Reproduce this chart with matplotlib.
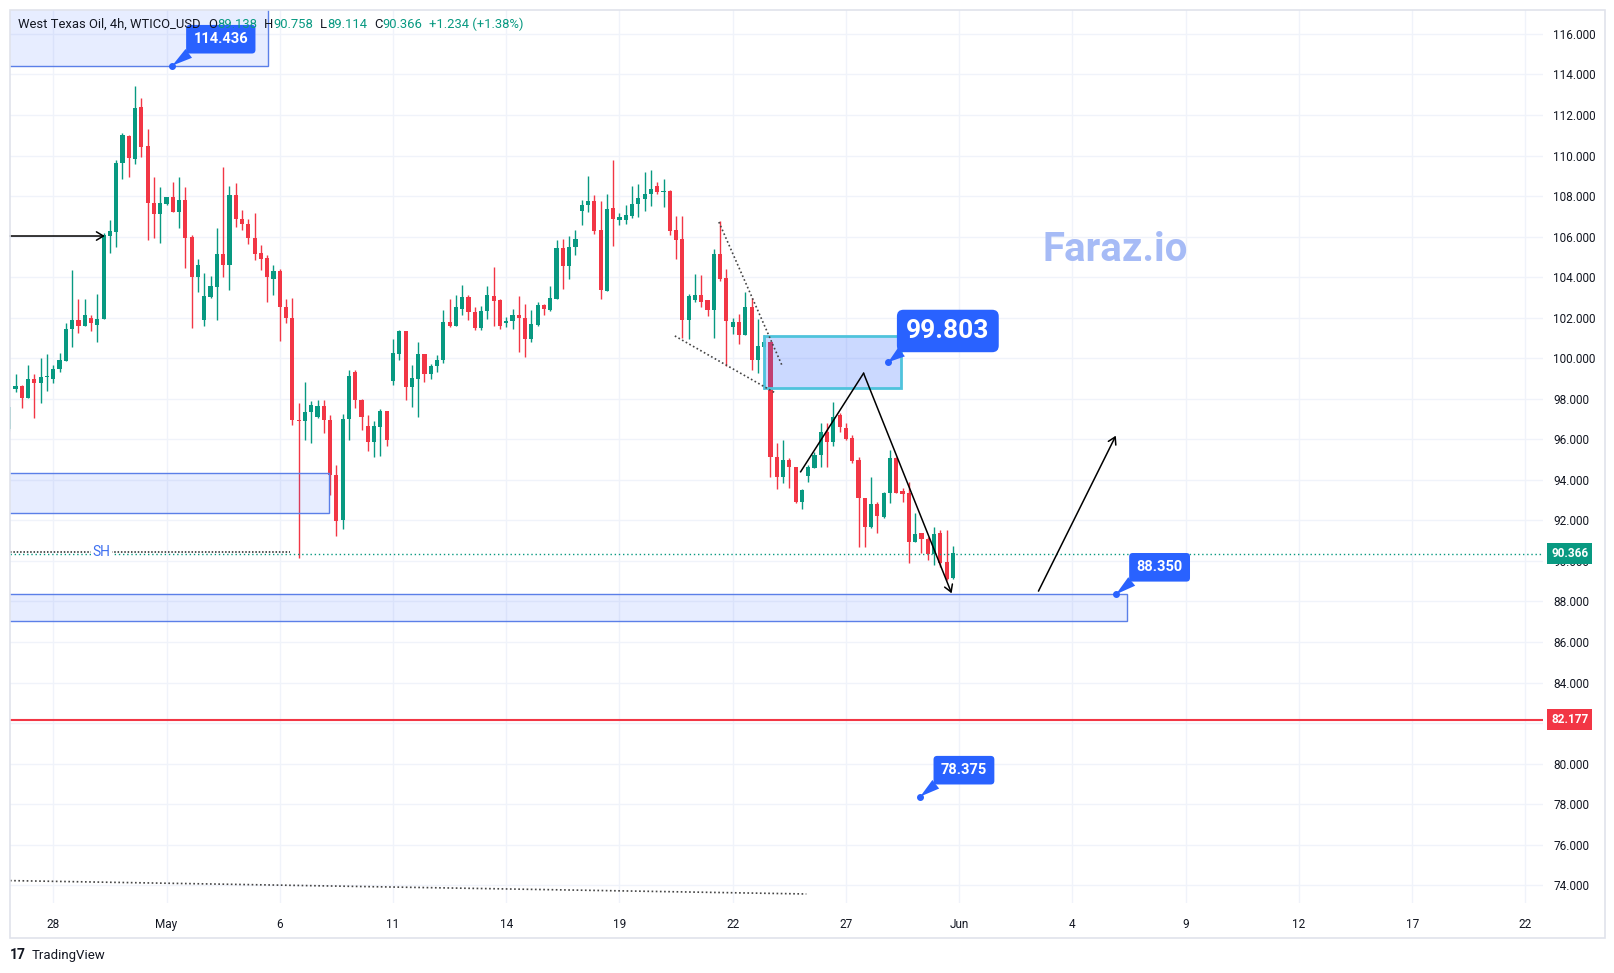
import matplotlib
matplotlib.use("Agg")
import matplotlib.pyplot as plt
import matplotlib.transforms as mtransforms
from matplotlib.patches import Rectangle
import numpy as np

plt.rcParams['font.family'] = ['Roboto', 'DejaVu Sans']

# ---------------- data ----------------
first_bar = -7
opens = [96.50, 98.50, 98.63, 98.05, 98.96, 98.80, 99.06,
         99.00, 99.47, 99.88, 101.44, 101.88, 101.59, 102.00, 101.64, 101.93, 106.05,
         106.24, 109.65, 110.96, 109.85, 112.39, 110.47, 107.64, 107.10, 107.60, 107.94,
         107.23, 107.81, 106.00, 103.99, 101.91, 103.03, 103.50, 105.16, 104.62, 108.03,
         106.89, 106.64, 105.94, 105.20, 104.95, 103.93, 104.28, 102.52, 101.99, 96.97,
         96.89, 97.33, 97.09, 97.62, 96.97, 94.23, 92.00, 97.01, 99.31, 97.93,
         96.68, 95.86, 96.61, 97.42, 98.87, 100.23, 101.33, 98.57, 99.00, 100.23,
         99.24, 99.61, 99.90, 101.79, 101.61, 102.45, 103.01, 102.29, 101.50, 102.32,
         103.09, 102.85, 101.73, 101.83, 102.15, 101.99, 100.97, 101.66, 102.62, 102.40,
         102.94, 105.46, 104.54, 105.48, 107.25, 107.55, 107.75, 106.32, 103.34, 107.42,
         106.81, 106.84, 107.01, 107.63, 107.88, 108.08, 108.49, 108.19, 108.24, 106.35,
         105.86, 101.88, 102.85, 103.14, 102.85, 102.40, 105.12, 103.96, 101.53, 101.78,
         101.15, 102.54, 99.90, 100.57, 100.80, 95.14, 94.16, 94.98, 94.65, 92.92,
         94.19, 94.57, 95.23, 96.35, 95.89, 97.20, 96.54, 96.05, 94.98, 93.09,
         91.69, 92.81, 92.15, 93.34, 95.06, 93.45, 93.37, 90.95, 91.36, 91.07,
         90.34, 91.36, 89.96, 89.14]
highs = [97.60, 99.20, 98.68, 99.66, 99.22, 100.03, 100.20,
         99.66, 100.24, 101.72, 104.35, 102.92, 102.92, 102.11, 103.16, 106.16, 106.82,
         109.78, 111.10, 111.01, 113.43, 112.82, 111.29, 108.96, 108.46, 107.97, 108.68,
         108.93, 108.43, 106.08, 104.90, 104.21, 104.08, 106.43, 109.42, 108.52, 108.65,
         107.29, 106.89, 107.17, 105.61, 105.07, 104.62, 104.38, 102.94, 102.98, 97.80,
         98.83, 97.88, 97.96, 97.93, 97.22, 94.75, 97.27, 99.41, 99.41, 97.99,
         97.19, 96.89, 97.50, 97.42, 100.95, 101.41, 101.33, 99.69, 100.81, 100.23,
         99.74, 100.18, 102.40, 102.94, 103.14, 103.59, 103.14, 102.55, 102.60, 103.55,
         104.49, 102.94, 102.02, 102.43, 103.06, 102.70, 102.40, 102.78, 102.68, 103.55,
         105.82, 105.90, 106.05, 106.35, 107.83, 109.01, 108.03, 107.75, 108.12, 109.80,
         107.17, 107.58, 108.49, 108.62, 109.18, 109.31, 108.70, 108.82, 108.32, 107.04,
         107.04, 103.19, 104.18, 104.13, 102.85, 105.41, 106.76, 104.42, 101.99, 102.20,
         103.27, 102.96, 101.92, 101.16, 100.80, 95.80, 95.97, 95.06, 94.65, 93.53,
         94.73, 95.39, 96.82, 96.82, 97.86, 97.28, 96.79, 96.21, 95.14, 93.09,
         94.16, 92.89, 93.42, 95.47, 95.14, 93.60, 93.91, 92.35, 91.36, 91.20,
         91.69, 91.53, 91.53, 90.76]
lows = [96.40, 98.35, 97.53, 98.05, 97.07, 97.77, 98.40,
        98.76, 99.34, 99.88, 100.57, 101.23, 101.59, 101.36, 100.82, 101.93, 105.20,
        105.50, 108.83, 108.96, 109.60, 109.95, 105.83, 105.91, 105.67, 107.56, 107.23,
        106.41, 104.43, 101.47, 103.28, 101.58, 102.98, 101.90, 104.00, 103.39, 106.48,
        106.35, 105.66, 104.87, 104.34, 102.76, 103.14, 100.84, 101.74, 96.73, 90.15,
        95.95, 95.82, 97.06, 96.32, 93.27, 91.22, 91.60, 95.99, 97.55, 96.48,
        95.41, 95.13, 95.16, 95.66, 98.70, 99.90, 97.93, 97.58, 97.09, 98.82,
        98.98, 99.31, 99.77, 101.53, 101.58, 102.12, 101.88, 101.41, 101.38, 101.96,
        101.61, 101.46, 101.53, 101.46, 100.30, 100.05, 100.81, 101.58, 102.12, 102.32,
        102.94, 103.44, 103.93, 105.07, 106.55, 107.20, 106.13, 102.94, 103.31, 105.53,
        106.55, 106.64, 106.92, 106.96, 107.25, 107.50, 108.11, 107.47, 106.10, 104.92,
        101.00, 100.95, 102.78, 102.52, 102.07, 101.00, 103.80, 99.64, 101.22, 100.72,
        101.15, 99.42, 99.25, 98.48, 94.16, 93.53, 93.83, 93.58, 92.84, 92.55,
        93.91, 94.57, 94.65, 94.65, 95.67, 96.38, 95.97, 94.82, 90.70, 90.70,
        91.61, 91.36, 92.10, 92.84, 93.34, 92.90, 89.88, 90.95, 90.38, 90.05,
        89.80, 89.72, 89.06, 89.11]
closes = [97.60, 98.65, 98.05, 98.96, 98.80, 99.06, 99.12,
          99.47, 99.91, 101.44, 101.88, 101.59, 102.11, 101.72, 101.93, 106.08, 106.28,
          109.65, 111.01, 109.86, 112.35, 110.44, 107.64, 107.10, 107.67, 107.94, 107.23,
          107.81, 105.95, 103.99, 104.60, 103.06, 103.55, 105.12, 104.62, 108.03, 106.89,
          106.60, 105.94, 105.16, 104.92, 104.00, 104.29, 102.52, 101.99, 96.94, 96.89,
          97.35, 97.71, 97.62, 96.94, 94.23, 91.96, 97.02, 99.14, 97.93, 97.09,
          95.86, 96.64, 97.38, 95.95, 100.26, 101.33, 98.57, 99.03, 100.23, 99.24,
          99.64, 99.93, 101.79, 101.61, 102.52, 103.01, 102.27, 101.50, 102.35, 103.14,
          102.80, 101.61, 101.86, 102.15, 101.99, 100.97, 101.71, 102.65, 102.43, 102.98,
          105.46, 104.54, 105.49, 105.90, 107.58, 107.75, 106.27, 103.36, 107.38, 106.89,
          106.96, 107.09, 107.63, 107.91, 108.12, 108.37, 108.19, 108.22, 106.27, 105.82,
          101.88, 103.06, 103.14, 102.78, 102.40, 105.16, 103.93, 101.83, 101.79, 101.13,
          102.54, 99.90, 100.58, 100.80, 95.15, 94.16, 94.98, 94.65, 92.92, 93.50,
          94.65, 95.23, 96.35, 95.89, 97.12, 96.63, 96.02, 94.93, 93.09, 91.69,
          92.81, 92.22, 93.34, 95.06, 93.37, 93.30, 90.95, 91.33, 91.07, 90.34,
          91.33, 89.88, 89.09, 90.37]

date_tick_bars = [0, 18, 36, 54, 72, 90, 108, 126, 144, 162, 180, 198, 216, 234]
date_tick_labels = ['28', 'May', '6', '11', '14', '19', '22', '27', 'Jun', '4', '9', '12', '17', '22']
price_ticks = [74, 76, 78, 80, 82, 84, 86, 88, 90, 92, 94, 96, 98, 100,
               102, 104, 106, 108, 110, 112, 114, 116]
hidden_price_ticks = [82]   # covered by the red level label in the reference

last_price = 90.366
red_level = 82.177
sh_level = 90.44
sh_end_bar = 37.7
sh_label_bar = 7.7

# zones: top-left, left-middle, bottom, supply
zone_x0 = [-10, -10, -10, 112.9]
zone_x1 = [34.1, 43.9, 170.7, 134.7]
zone_y0 = [114.436, 92.35, 87.04, 98.52]
zone_y1 = [118.5, 94.32, 88.35, 101.10]

arrow_h_bar = [-6.88, 8.2]
arrow_h_price = [106.03, 106.03]
wedge_up_bar = [105.8, 115.9]
wedge_up_price = [106.72, 99.60]
wedge_lo_bar = [98.8, 114.7]
wedge_lo_price = [101.10, 98.30]
zigzag_bar = [118.8, 128.8, 142.8]
zigzag_price = [94.40, 99.26, 88.40]
proj_bar = [156.6, 168.9]
proj_price = [88.51, 96.18]
bottom_dot_bar = [-6.88, 119.7]
bottom_dot_price = [74.23, 73.57]

callout_text = ['114.436', '99.803', '88.350', '78.375']
callout_bar = [18.9, 132.7, 168.9, 137.8]
callout_price = [114.436, 99.803, 88.350, 78.375]

# ---------------- figure ----------------
W, H = 1615, 973
GREEN, RED, BLUE = '#089981', '#f23645', '#2962ff'
TXT = '#131722'

fig = plt.figure(figsize=(W / 100, H / 100), dpi=100)
fig.patch.set_facecolor('white')
L, R, T, B = 10, 1543, 10, 903
ax = fig.add_axes([L / W, 1 - B / H, (R - L) / W, (B - T) / H])
ax.set_facecolor('white')
ax.set_xlim(-6.88, 236.8)
ax.set_ylim(73.125, 117.18)

# grid & ticks
ax.set_yticks(price_ticks)
ax.set_yticklabels(['' if v in hidden_price_ticks else f'{v:.3f}' for v in price_ticks])
ax.yaxis.tick_right()
ax.tick_params(axis='y', length=0, pad=7.5, labelsize=8.5, labelcolor=TXT)
ax.set_xticks(date_tick_bars)
ax.set_xticklabels(date_tick_labels)
ax.tick_params(axis='x', length=0, pad=11, labelsize=8.5, labelcolor=TXT)
ax.grid(True, color='#f0f3fa', lw=1)
ax.set_axisbelow(True)
for s in ax.spines.values():
    s.set_visible(False)

# candles
x = np.arange(len(opens)) + first_bar
o = np.array(opens); h = np.array(highs); l = np.array(lows); c = np.array(closes)
cols = np.where(c >= o, GREEN, RED)
ax.vlines(x, l, h, colors=cols, lw=1.0, zorder=2)
ax.bar(x, np.maximum(np.abs(c - o), 0.07), bottom=np.minimum(o, c), width=0.66,
       color=cols, linewidth=0, zorder=2.1)

# zones
for i in range(len(zone_x0)):
    supply = (i == 3)
    ax.add_patch(Rectangle((zone_x0[i], zone_y0[i]), zone_x1[i] - zone_x0[i],
                           zone_y1[i] - zone_y0[i],
                           facecolor=(0.16, 0.38, 1.0, 0.24 if supply else 0.11),
                           edgecolor='#4fc3dc' if supply else '#5b7fe8',
                           lw=2.0 if supply else 1.0, zorder=3))

# price lines
ax.axhline(last_price, color=GREEN, ls=(0, (1, 2)), lw=1, zorder=2.5)
ax.axhline(red_level, color=RED, lw=1.5, zorder=2.5)
ax.plot([-6.88, sh_end_bar], [sh_level, sh_level], color='#222222',
        ls=(0, (1, 1.2)), lw=1.1, zorder=2.6)
ax.text(sh_label_bar, sh_level, 'SH', color='#3d6ff0', fontsize=10, ha='center', va='center',
        bbox=dict(boxstyle='square,pad=0.1', fc='white', ec='none'), zorder=4)

# trend drawings
ax.plot(wedge_up_bar, wedge_up_price, color='#444444', ls=(0, (1, 1.5)), lw=1.2, zorder=4)
ax.plot(wedge_lo_bar, wedge_lo_price, color='#444444', ls=(0, (1, 1.5)), lw=1.2, zorder=4)
ax.plot(bottom_dot_bar, bottom_dot_price, color='#444444', ls=(0, (1, 1.5)), lw=1.2, zorder=4)
ax.plot(zigzag_bar[:2], zigzag_price[:2], color='black', lw=1.1, zorder=4)
arrow_style = dict(arrowstyle='->,head_length=0.5,head_width=0.3', color='black',
                   lw=1.1, shrinkA=0, shrinkB=0)
ax.annotate('', xy=(zigzag_bar[2], zigzag_price[2]), xytext=(zigzag_bar[1], zigzag_price[1]),
            arrowprops=arrow_style, zorder=4)
ax.annotate('', xy=(proj_bar[1], proj_price[1]), xytext=(proj_bar[0], proj_price[0]),
            arrowprops=arrow_style, zorder=4)
ax.annotate('', xy=(arrow_h_bar[1], arrow_h_price[1]), xytext=(arrow_h_bar[0], arrow_h_price[0]),
            arrowprops=arrow_style, zorder=4, annotation_clip=False)

# callouts
offsets = [(35, 19), (43, 22.5), (31.5, 19.5), (31.5, 19)]
sizes = [10.5, 19, 10.5, 10.5]
pads = [0.5, 0.35, 0.5, 0.5]
tails = [0.75, 0.42, 0.75, 0.75]
for i in range(len(callout_text)):
    ax.annotate(callout_text[i], xy=(callout_bar[i], callout_price[i]),
                xytext=offsets[i], textcoords='offset points',
                ha='center', va='center', color='white', fontsize=sizes[i], fontweight='bold',
                bbox=dict(boxstyle=f'round,pad={pads[i]},rounding_size=0.25', fc=BLUE, ec='none'),
                arrowprops=dict(arrowstyle=f'wedge,tail_width={tails[i]},shrink_factor=0.5',
                                fc=BLUE, ec='none', relpos=(0.18, 0.25), shrinkA=0, shrinkB=0),
                zorder=6, annotation_clip=False)
    ax.plot(callout_bar[i], callout_price[i], 'o', ms=4, color=BLUE, zorder=7)

# price axis labels
tr = mtransforms.blended_transform_factory(ax.transAxes, ax.transData)
for val, col in [(last_price, GREEN), (red_level, RED)]:
    ax.text(1.0175, val, f'{val:.3f}', transform=tr, ha='center', va='center',
            color='white', fontsize=8.5, fontweight='bold',
            bbox=dict(boxstyle='square,pad=0.32', fc=col, ec='none'),
            clip_on=False, zorder=10)

# watermark
fig.text(1115 / W, 1 - 250 / H, 'Faraz.io', color='#a6bbf6', fontsize=29,
         fontweight='bold', ha='center', va='center')

# frame
fig.add_artist(Rectangle((10 / W, 1 - 938 / H), (1605 - 10) / W, (938 - 10) / H,
                         transform=fig.transFigure, fill=False, ec='#e0e3eb', lw=1.2))

# header
fig.canvas.draw()
renderer = fig.canvas.get_renderer()
header_parts = [('West Texas Oil, 4h, WTICO_USD', TXT, 0), ('O', TXT, 7), ('89.138', GREEN, 0),
                ('H', TXT, 7), ('90.758', GREEN, 0), ('L', TXT, 7), ('89.114', GREEN, 0),
                ('C', TXT, 7), ('90.366', GREEN, 0), ('+1.234 (+1.38%)', GREEN, 7)]
xp = 18.5
for txt, col, gap in header_parts:
    xp += gap
    t = fig.text(xp / W, 1 - 24 / H, txt, color=col, fontsize=9.4, ha='left', va='center')
    xp = t.get_window_extent(renderer).x1

# footer
fig.text(10 / W, 1 - 955 / H, '17', color=TXT, fontsize=10, fontweight='bold',
         ha='left', va='center')
fig.text(32 / W, 1 - 955 / H, 'TradingView', color=TXT, fontsize=9.5,
         ha='left', va='center')

fig.savefig('out.png', dpi=100, facecolor='white')
